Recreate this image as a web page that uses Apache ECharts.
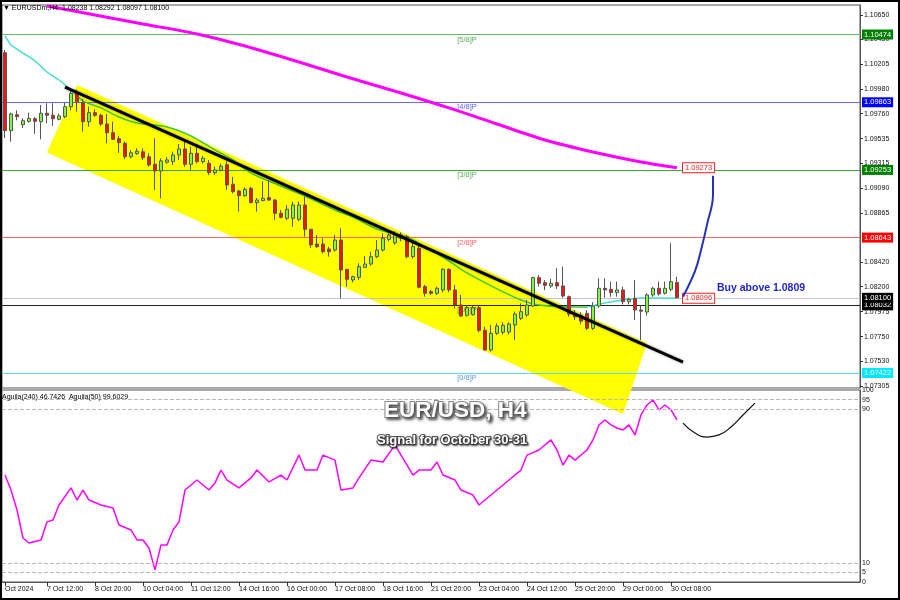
<!DOCTYPE html>
<html><head><meta charset="utf-8">
<script src="https://cdn.jsdelivr.net/npm/echarts@6/dist/echarts.min.js"></script>
<style>html,body{margin:0;padding:0;background:#fff}#c{width:900px;height:600px}</style>
</head><body><div id="c"></div>
<script>
// ---------- DATA ----------
const opens = [1.10310,1.09607,1.09751,1.09661,1.09691,1.09715,1.09688,1.09764,1.09746,1.09710,
1.09733,1.09823,1.09944,1.09859,1.09688,1.09769,1.09746,1.09667,1.09589,1.09535,
1.09493,1.09372,1.09401,1.09416,1.09372,1.09304,1.09244,1.09322,1.09328,1.09388,
1.09442,1.09304,1.09403,1.09328,1.09313,1.09228,1.09250,1.09300,1.09124,1.09063,
1.09021,1.09087,1.08958,1.08976,1.09003,1.08982,1.08862,1.08817,1.08817,1.08808,
1.08937,1.08718,1.08585,1.08585,1.08540,1.08531,1.08621,1.08357,1.08261,1.08285,
1.08375,1.08405,1.08471,1.08531,1.08627,1.08595,1.08667,1.08652,1.08471,1.08546,
1.08201,1.08156,1.08141,1.08171,1.08357,1.08171,1.08035,1.07942,1.07948,1.08011,
1.07807,1.07630,1.07780,1.07789,1.07792,1.07855,1.07915,1.07945,1.08026,1.08282,
1.08237,1.08207,1.08237,1.08207,1.08110,1.07954,1.07942,1.07960,1.07825,1.08026,
1.08186,1.08177,1.08147,1.08171,1.08065,1.08095,1.07990,1.07972,1.08126,1.08186,
1.08141,1.08177,1.08238];
const closes = [1.09607,1.09757,1.09733,1.09697,1.09718,1.09691,1.09764,1.09746,1.09715,1.09740,
1.09823,1.09944,1.09868,1.09688,1.09769,1.09746,1.09667,1.09589,1.09529,1.09499,
1.09372,1.09408,1.09422,1.09363,1.09298,1.09244,1.09334,1.09343,1.09388,1.09442,
1.09304,1.09403,1.09328,1.09358,1.09228,1.09253,1.09286,1.09118,1.09057,1.09021,
1.09078,1.08958,1.08982,1.08997,1.08982,1.08862,1.08826,1.08898,1.08937,1.08937,
1.08718,1.08577,1.08561,1.08516,1.08516,1.08621,1.08351,1.08267,1.08291,1.08381,
1.08405,1.08471,1.08531,1.08637,1.08667,1.08676,1.08637,1.08471,1.08561,1.08195,
1.08141,1.08141,1.08186,1.08357,1.08171,1.08035,1.07936,1.08011,1.08011,1.07807,
1.07630,1.07780,1.07846,1.07852,1.07864,1.07954,1.07975,1.08035,1.08282,1.08231,
1.08213,1.08231,1.08207,1.08116,1.07954,1.07930,1.07890,1.07825,1.08026,1.08186,
1.08171,1.08147,1.08171,1.08065,1.08086,1.07990,1.07980,1.08126,1.08186,1.08135,
1.08186,1.08246,1.08100];
const highs = [1.10334,1.09770,1.09790,1.09720,1.09769,1.09730,1.09839,1.09854,1.09854,1.09760,
1.09859,1.09980,1.09975,1.09895,1.09823,1.09800,1.09760,1.09757,1.09688,1.09560,
1.09508,1.09433,1.09448,1.09448,1.09403,1.09538,1.09358,1.09370,1.09418,1.09487,
1.09523,1.09463,1.09463,1.09380,1.09343,1.09283,1.09310,1.09330,1.09190,1.09072,
1.09097,1.09100,1.09000,1.09148,1.09162,1.08990,1.08892,1.08937,1.08967,1.08967,
1.09012,1.08720,1.08666,1.08637,1.08560,1.08666,1.08727,1.08360,1.08300,1.08411,
1.08477,1.08516,1.08621,1.08682,1.08682,1.08700,1.08690,1.08666,1.08606,1.08591,
1.08216,1.08171,1.08201,1.08366,1.08366,1.08216,1.08126,1.08035,1.08030,1.08035,
1.07840,1.07855,1.07870,1.07880,1.07880,1.07975,1.08050,1.08080,1.08291,1.08306,
1.08260,1.08270,1.08366,1.08381,1.08120,1.07990,1.07970,1.07990,1.08060,1.08276,
1.08276,1.08246,1.08246,1.08201,1.08100,1.08261,1.08030,1.08141,1.08200,1.08246,
1.08246,1.08592,1.08292];
const lows = [1.09541,1.09508,1.09700,1.09630,1.09679,1.09577,1.09529,1.09674,1.09649,1.09700,
1.09720,1.09790,1.09778,1.09598,1.09643,1.09730,1.09650,1.09493,1.09523,1.09406,
1.09349,1.09358,1.09388,1.09343,1.09283,1.09072,1.08997,1.09310,1.09298,1.09343,
1.09280,1.09253,1.09313,1.09310,1.09208,1.09208,1.09240,1.09072,1.09040,1.08877,
1.09012,1.08950,1.08877,1.08970,1.08975,1.08802,1.08817,1.08802,1.08742,1.08790,
1.08651,1.08550,1.08550,1.08501,1.08471,1.08516,1.08096,1.08200,1.08240,1.08260,
1.08370,1.08390,1.08460,1.08516,1.08610,1.08580,1.08610,1.08456,1.08456,1.08186,
1.08111,1.08126,1.08126,1.08150,1.08150,1.08005,1.07930,1.07930,1.07940,1.07790,
1.07624,1.07615,1.07765,1.07770,1.07770,1.07720,1.07900,1.07930,1.08020,1.08200,
1.08170,1.08190,1.08180,1.08101,1.07930,1.07900,1.07860,1.07810,1.07810,1.08010,
1.08100,1.08110,1.08110,1.08040,1.08040,1.07900,1.07720,1.07940,1.08110,1.08120,
1.08130,1.08160,1.08097];

// moving average (cyan/green), [candle index, price]
const maFast = [[0,1.10461],[1,1.10380],[2,1.10343],[3,1.10307],[5,1.10235],[7,1.10136],[9,1.10064],
[11,1.09974],[13,1.09875],[16,1.09812],[19,1.09730],[22,1.09676],[27,1.09640],[31,1.09559],
[35,1.09433],[38,1.09343],[41,1.09225],[46,1.09108],[50,1.09018],[55,1.08892],[58,1.08829],
[62,1.08721],[67,1.08648],[70,1.08558],[73,1.08468],[77,1.08324],[82,1.08180],[86,1.08080],
[89,1.08035],[95,1.08017],[97,1.08017],[99,1.08044],[103,1.08080],[106,1.08098],[112,1.08096]];
// slow moving average (magenta)
const maSlow = [[7,1.10731],[15,1.10650],[23,1.10569],[32,1.10479],[40,1.10370],[49,1.10226],
[57,1.10091],[66,1.09947],[74,1.09812],[82,1.09667],[90,1.09523],[98,1.09415],[106,1.09325],[112,1.09273]];

// Aguila(50) oscillator, [candle index, value]
const aguila = [[0,55.7],[1,47.9],[2,37.5],[3,22.9],[4,20.3],[6,21.9],[7,31.3],[8,32.3],[9,40.1],[11,49],
[12,42.7],[13,47.9],[14,42.7],[16,40.1],[18,38.5],[19,29.7],[21,27.1],[22,21.9],[23,21.9],[24,17.7],
[25,6.3],[26,19.3],[27,19.3],[28,27.1],[29,31.3],[30,47.9],[31,50.5],[32,53.1],[34,47.9],[35,51.6],
[36,58.3],[37,53.1],[39,49],[41,54.2],[42,58.3],[44,52.1],[46,55.7],[47,53.1],[49,66.1],[50,58.3],
[52,58.3],[53,66.1],[55,63.5],[56,47.9],[58,49],[59,54.2],[61,63.5],[63,62.5],[65,71.4],[66,66.1],
[68,55.7],[69,58.3],[71,58.3],[72,62.5],[73,55.7],[75,53.1],[76,47.9],[78,45.3],[79,40.1],[80,42.7],
[82,47.9],[84,53.1],[86,58.3],[87,66.1],[89,68.75],[91,74],[92,68.75],[93,60.9],[94,66.1],[95,63.5],
[97,68.75],[98,74],[99,81.8],[100,84.4],[101,81.8],[102,80.2],[103,79.2],[104,81.8],[105,76.6],[106,87],
[107,92.2],[108,94.8],[109,89.6],[110,92.2],[111,89.6],[112,84.4]];

// Murrey levels
const levelValues = [1.10474, 1.09863, 1.09253, 1.08643, 1.08032, 1.07422];
const levelNames = ['[5/8]P', '[4/8]P', '[3/8]P', '[2/8]P', '[1/8]P', '[0/8]P'];
const bidPrice = 1.08100;

// annotations (candle index, price / oscillator value)
const channel = [[12,1.10019],[107,1.07693],[103,1.07053],[7,1.09410]];
const trendLine = [[10,1.10000],[113,1.07521]];
const buyArrow = [[113,1.08110],[115,1.08340],[116,1.08530],[117,1.08760],[118,1.09030],[118,1.09200]];
const oscArrow = [[113,82.8],[115,77.6],[117,75.5],[119,76.6],[121,80.7],[123,87],[125,93.2]];

// axis ticks
const priceTicks = [1.10650,1.10430,1.10205,1.09980,1.09760,1.09535,1.09315,1.09090,1.08865,1.08420,1.08200,1.07975,1.07750,1.07530,1.07305];
const oscTicks = [0,5,10,90,95,100];
const timeTickIndex = [0,7,15,23,31,39,47,55,63,71,79,87,95,103,111];
const timeTickLabels = ['Oct 2024','7 Oct 12:00','8 Oct 20:00','10 Oct 04:00','11 Oct 12:00','14 Oct 16:00','16 Oct 00:00','17 Oct 08:00','18 Oct 16:00','21 Oct 20:00','23 Oct 04:00','24 Oct 12:00','25 Oct 20:00','29 Oct 00:00','30 Oct 08:00'];
const slotCount = 143;
const categories = Array.from({length: slotCount}, (_, i) => String(i));

// ---------- CHART ----------
const FONT = '"Liberation Sans", Arial, sans-serif';
const levelColors = ['#66bb66', '#6666ff', '#33aa33', '#ff6666', '#222222', '#55e0f0'];
const levelBoxColors = ['#008000', '#0000ff', '#008000', '#ff0000', '#000000', '#00e8ff'];
const levelTextColors = ['#2e9a2e', '#3333dd', '#2e9a2e', '#ff3333', '#333333', '#3a7bd5'];

const candleData = opens.map((o, i) => [o, closes[i], lows[i], highs[i]]);

const boxLabel = (txt, bg) => ({show: true, position: 'end', distance: 2, formatter: () => txt,
  color: '#fff', backgroundColor: bg, padding: [1, 2, 0, 2], fontSize: 7.5, lineHeight: 9, fontFamily: FONT});

const markLines = levelValues.map((v, i) => ({
  yAxis: v,
  lineStyle: {color: levelColors[i], width: 1, type: 'solid'},
  label: boxLabel(v.toFixed(5), levelBoxColors[i])
}));
markLines.push({
  yAxis: bidPrice,
  lineStyle: {color: '#c4c4d0', width: 1, type: 'solid'},
  label: boxLabel(bidPrice.toFixed(5), '#000')
});

const chart = echarts.init(document.getElementById('c'), null, {renderer: 'canvas'});
chart.setOption({
  animation: false,
  backgroundColor: '#fff',
  textStyle: {fontFamily: FONT},
  title: [
    {text: '▼ EURUSDm,H4  1.08238 1.08292 1.08097 1.08100', left: 3, top: 5, padding: 0,
     textStyle: {fontSize: 7, fontWeight: 'normal', color: '#000', fontFamily: FONT}},
    {text: 'Aguila(240) 46.7426  Aguila(50) 99.6029', left: 2, top: 394, padding: 0,
     textStyle: {fontSize: 7, fontWeight: 'normal', color: '#000', fontFamily: FONT}},
    {text: 'EUR/USD, H4', left: 384, top: 399, padding: 0,
     textStyle: {fontSize: 22.5, fontWeight: 'bold', color: '#fff', fontFamily: FONT,
       textBorderColor: '#8a8a8a', textBorderWidth: 2, textShadowColor: 'rgba(0,0,0,0.55)', textShadowBlur: 3, textShadowOffsetX: 2, textShadowOffsetY: 2}},
    {text: 'Signal for October 30-31', left: 377, top: 434, padding: 0,
     textStyle: {fontSize: 13, fontWeight: 'bold', color: '#fff', fontFamily: FONT,
       textBorderColor: '#555', textBorderWidth: 2, textShadowColor: 'rgba(0,0,0,0.6)', textShadowBlur: 2, textShadowOffsetX: 1, textShadowOffsetY: 1}},
    {text: 'Buy above 1.0809', left: 717, top: 283, padding: 0,
     textStyle: {fontSize: 10.5, fontWeight: 'bold', color: '#2424c8', fontFamily: FONT}}
  ],
  grid: [
    {left: 2, right: 40, top: 5, height: 383, show: true, borderColor: '#555', borderWidth: 1, backgroundColor: 'transparent'},
    {left: 2, right: 40, top: 390, height: 192, show: true, borderColor: '#555', borderWidth: 1, backgroundColor: 'transparent'}
  ],
  xAxis: [
    {type: 'category', gridIndex: 0, data: categories, boundaryGap: true,
     axisLine: {show: false}, axisTick: {show: false}, axisLabel: {show: false}, splitLine: {show: false}},
    {type: 'category', gridIndex: 1, data: categories, boundaryGap: true, position: 'bottom',
     axisLine: {show: true, lineStyle: {color: '#555'}},
     axisTick: {show: true, alignWithLabel: true, length: 4, lineStyle: {color: '#333'},
       interval: (idx) => timeTickIndex.includes(idx)},
     axisLabel: {show: true, align: 'left', margin: 4, fontSize: 7, color: '#111', fontFamily: FONT,
       interval: (idx) => timeTickIndex.includes(idx),
       formatter: (val, idx) => { const k = timeTickIndex.indexOf(idx); return k >= 0 ? timeTickLabels[k] : ''; }},
     splitLine: {show: false}}
  ],
  yAxis: [
    {type: 'value', gridIndex: 0, position: 'right', min: 1.07287, max: 1.10740, scale: true,
     axisLine: {show: true, lineStyle: {color: '#555'}},
     axisTick: {show: true, length: 3, lineStyle: {color: '#333'}, customValues: priceTicks},
     axisLabel: {show: true, fontSize: 7, color: '#111', margin: 4, fontFamily: FONT, customValues: priceTicks,
       formatter: (v) => v.toFixed(5)},
     splitLine: {show: false}},
    {type: 'value', gridIndex: 1, position: 'right', min: 0, max: 100,
     axisLine: {show: true, lineStyle: {color: '#555'}},
     axisTick: {show: false, customValues: oscTicks},
     axisLabel: {show: true, fontSize: 7, color: '#111', margin: 2, fontFamily: FONT, customValues: oscTicks,
       formatter: (v) => String(v)},
     splitLine: {show: false}}
  ],
  visualMap: [{
    type: 'piecewise', show: false, seriesIndex: 2, dimension: 0,
    pieces: [{lt: 12, color: '#3fe0d0'}, {gte: 12, lte: 97, color: '#3cc83c'}, {gt: 97, color: '#3fe0d0'}]
  }],
  series: [
    { // yellow channel
      type: 'custom', xAxisIndex: 0, yAxisIndex: 0, z: 1, clip: false, silent: true,
      data: [0],
      renderItem: (params, api) => ({
        type: 'polygon',
        shape: {points: channel.map(p => api.coord(p))},
        style: {fill: '#ffff00', stroke: 'none'}
      })
    },
    { // candles
      type: 'candlestick', xAxisIndex: 0, yAxisIndex: 0, z: 4, barWidth: 4,
      data: candleData,
      itemStyle: {color: '#7cfc3c', color0: '#ff1010', borderColor: '#555', borderColor0: '#555', borderWidth: 1},
      markLine: {symbol: 'none', silent: true, animation: false, precision: 5, z: 2, data: markLines}
    },
    { // fast MA
      type: 'line', xAxisIndex: 0, yAxisIndex: 0, z: 3, data: maFast, showSymbol: false, smooth: 0.3,
      lineStyle: {width: 1.5}, silent: true,
      endLabel: {show: true, formatter: (p) => p.value[1].toFixed(5), distance: 6, color: '#ff2020', fontSize: 7.5,
        backgroundColor: '#fff', borderColor: '#ff2020', borderWidth: 1, padding: [1, 2, 0, 2], fontFamily: FONT}
    },
    { // slow MA
      type: 'line', xAxisIndex: 0, yAxisIndex: 0, z: 3, data: maSlow, showSymbol: false, smooth: 0.3,
      lineStyle: {width: 3, color: '#ff00ff'}, itemStyle: {color: '#ff00ff'}, silent: true, clip: true,
      endLabel: {show: true, formatter: (p) => p.value[1].toFixed(5), distance: 6, color: '#ff2020', fontSize: 7.5,
        backgroundColor: '#fff', borderColor: '#ff2020', borderWidth: 1, padding: [1, 2, 0, 2], fontFamily: FONT}
    },
    { // trend line
      type: 'line', xAxisIndex: 0, yAxisIndex: 0, z: 5, data: trendLine, showSymbol: false, silent: true,
      lineStyle: {width: 3, color: '#000', shadowColor: 'rgba(0,0,0,0.35)', shadowBlur: 3}
    },
    { // level names
      type: 'scatter', xAxisIndex: 0, yAxisIndex: 0, z: 2, symbolSize: 0, silent: true,
      data: levelValues.map((v, i) => ({value: [77, v],
        label: {show: true, position: 'bottom', distance: 1, formatter: levelNames[i], color: levelTextColors[i], fontSize: 7.5, fontFamily: FONT}}))
    },
    { // buy arrow
      type: 'line', xAxisIndex: 0, yAxisIndex: 0, z: 6, smooth: 0.4, silent: true,
      data: buyArrow.map((p, i) => i === buyArrow.length - 1 ?
        {value: p, symbol: 'arrow', symbolSize: [8, 10], symbolRotate: -8, itemStyle: {color: '#2233bb'}} :
        {value: p, symbol: 'none'}),
      showSymbol: true, lineStyle: {width: 2, color: '#2233bb'}
    },
    { // oscillator
      type: 'line', xAxisIndex: 1, yAxisIndex: 1, z: 3, data: aguila, showSymbol: false, silent: true,
      lineStyle: {width: 1.5, color: '#ff00ff'},
      markLine: {symbol: 'none', silent: true, label: {show: false}, precision: 2,
        lineStyle: {color: '#b8b8b8', type: 'dashed', width: 1},
        data: [{yAxis: 95}, {yAxis: 90}, {yAxis: 10}, {yAxis: 5}]}
    },
    { // oscillator arrow
      type: 'line', xAxisIndex: 1, yAxisIndex: 1, z: 6, smooth: 0.5, silent: true,
      data: oscArrow.map((p, i) => i === oscArrow.length - 1 ?
        {value: p, symbol: 'arrow', symbolSize: [7, 9], symbolRotate: -55, itemStyle: {color: '#111'}} :
        {value: p, symbol: 'none'}),
      showSymbol: true, lineStyle: {width: 1.2, color: '#111'}
    }
  ],
  graphic: [
    {type: 'rect', z: 100, silent: true, shape: {x: 1, y: 1, width: 898, height: 598},
     style: {fill: 'none', stroke: '#000', lineWidth: 2}}
  ]
});
</script>
</body></html>
